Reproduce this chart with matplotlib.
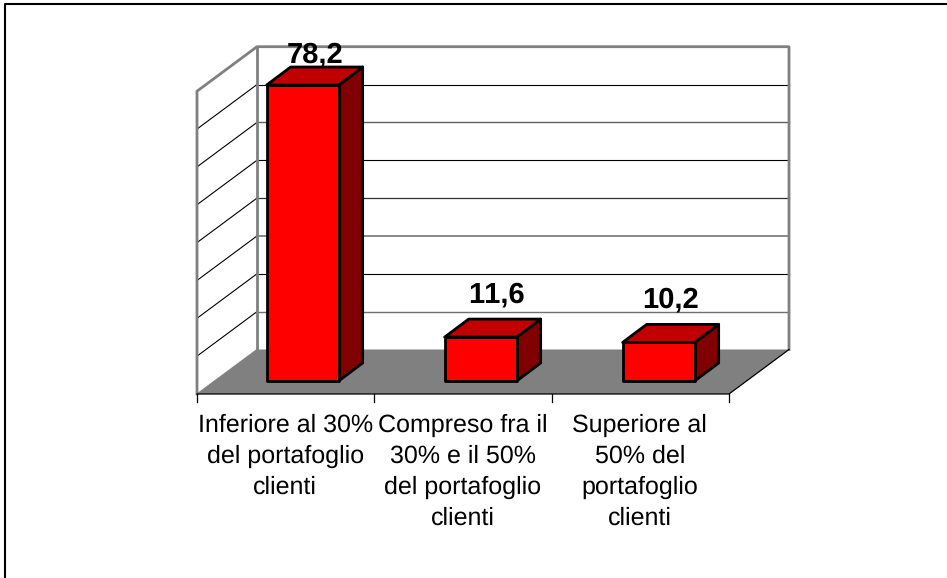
import matplotlib
matplotlib.use("Agg")
import matplotlib.pyplot as plt
from matplotlib.patches import Polygon

categories = ["Inferiore al 30%\ndel portafoglio\nclienti",
              "Compreso fra il\n30% e il 50%\ndel portafoglio\nclienti",
              "Superiore al\n50% del\nportafoglio\nclienti"]
values = [78.2, 11.6, 10.2]
value_labels = ["78,2", "11,6", "10,2"]
grid_values = [10, 20, 30, 40, 50, 60, 70]
grid_colors = ["#707070", "black", "#808080", "#303030", "black", "#606060", "black"]
grid_widths = [1.0, 0.8, 1.3, 0.9, 0.8, 1.0, 0.8]

W, H = 947, 578
x0, y0 = 197, 394      # front left corner of the plot, pixels
cat_w = 532 / 3        # pixels per category
unit = 3.785           # pixels per value unit
vmax = 80

# depth of the box and of the bars, in data units
dx = 60 / cat_w
dv = 44.5 / unit
bar_w = 72 / cat_w
bar_dx = 24 / cat_w
bar_dv = 18 / unit
bar_step = 178 / cat_w
off_x = 17 / cat_w     # bar front sits inside the floor
off_v = 13 / unit
label_nudge = [0, 4 / cat_w, 0]   # the 11 is narrower, sits a bit off centre

GRAY = "#808080"

plt.rcParams["font.family"] = ["Liberation Sans", "DejaVu Sans"]
plt.rcParams["text.hinting"] = "no_hinting"
plt.rcParams["text.kerning_factor"] = 6

fig = plt.figure(figsize=(W / 100, H / 100), dpi=100)
ax = fig.add_axes([0, 0, 1, 1])
ax.set_xlim(-x0 / cat_w, (W - x0) / cat_w)
ax.set_ylim((y0 - H) / unit, y0 / unit)
ax.axis("off")

n = len(values)

# outer frame, only top and left show
fig.add_artist(plt.Line2D([5 / W, 5 / W, 1], [0, 1 - 4 / H, 1 - 4 / H], color="black", lw=1.5))

# floor
ax.add_patch(Polygon([(0, 0), (n, 0), (n + dx, dv), (dx, dv)], fc=GRAY, ec="none", zorder=1))

# grid lines on the side wall and on the back wall
for g, col, w in zip(grid_values, grid_colors, grid_widths):
    ax.plot([0, dx], [g, g + dv], color="black", lw=0.8, zorder=2)
    ax.plot([dx, n + dx], [g + dv, g + dv], color=col, lw=w, zorder=2)
ax.plot([0, dx], [0, dv], color=GRAY, lw=0.8, zorder=2)

# walls
ax.plot([0, 0, dx, n + dx, n + dx], [0, vmax, vmax + dv, vmax + dv, dv], color=GRAY, lw=2, zorder=3)
ax.plot([dx, dx], [dv, vmax + dv], color=GRAY, lw=2, zorder=3)

# category axis
ax.plot([0, n, n + dx], [0, 0, dv], color="black", lw=0.9, zorder=4)
for i in range(n + 1):
    ax.plot([i, i], [0, -8 / unit], color="black", lw=0.9, zorder=4)

# bars
for i, v in enumerate(values):
    left = i * bar_step + 0.5 - bar_w / 2 + off_x
    right = left + bar_w
    base = off_v
    top = base + v
    ax.add_patch(Polygon([(right, base), (right + bar_dx, base + bar_dv), (right + bar_dx, top + bar_dv), (right, top)],
                         fc="#800000", ec="black", lw=2, joinstyle="round", zorder=5))
    ax.add_patch(Polygon([(left, top), (right, top), (right + bar_dx, top + bar_dv), (left + bar_dx, top + bar_dv)],
                         fc="#c00000", ec="black", lw=2, joinstyle="round", zorder=5))
    ax.add_patch(Polygon([(left, base), (right, base), (right, top), (left, top)],
                         fc="#ff0000", ec="black", lw=2, joinstyle="round", zorder=6))
    label_v = min(top + bar_dv + 17 / unit, vmax + dv - 15.5 / unit)
    ax.text((left + right + bar_dx) / 2 + label_nudge[i], label_v, value_labels[i], ha="center", va="baseline",
            fontsize=21, fontweight="bold", color="black", zorder=7)

# category labels
for i, c in enumerate(categories):
    ax.text(i + 0.5 - 0.5 / cat_w, -19.5 / unit, c, ha="center", va="top", multialignment="center",
            fontsize=18, linespacing=1.42, color="black", zorder=7)

fig.savefig("out.png", dpi=100, facecolor="white")
